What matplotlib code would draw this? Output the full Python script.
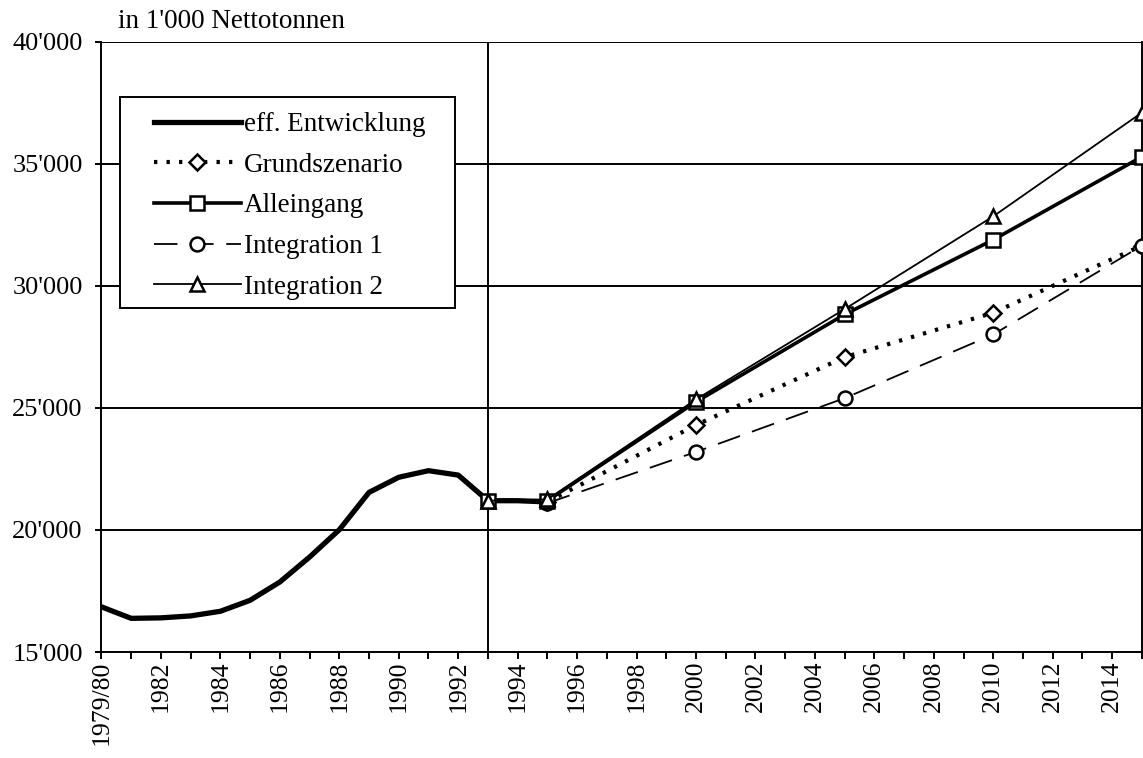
import matplotlib.pyplot as plt
from matplotlib.patches import Rectangle
from matplotlib.ticker import FuncFormatter

plt.rcParams['font.family'] = ['Liberation Serif', 'DejaVu Serif']

# effektive Entwicklung 1980-1995
eff_years = [1980, 1981, 1982, 1983, 1984, 1985, 1986, 1987, 1988, 1989,
             1990, 1991, 1992, 1993, 1994, 1995]
eff_values = [16850, 16380, 16400, 16480, 16670, 17120, 17870, 18890, 20010,
              21540, 22160, 22430, 22250, 21200, 21200, 21150]

# Szenarien
grund_years = [1995, 2000, 2005, 2010, 2015]
grund_values = [21150, 24300, 27080, 28900, 31650]

allein_years = [1993, 1995, 2000, 2005, 2010, 2015]
allein_values = [21200, 21200, 25250, 28830, 31890, 35290]

int1_years = [1995, 2000, 2005, 2010, 2015]
int1_values = [21100, 23200, 25400, 28010, 31650]

int2_years = [1993, 1995, 2000, 2005, 2010, 2015]
int2_values = [21200, 21250, 25350, 29050, 32850, 37100]

x_ticks = list(range(1980, 2016))
x_labels = ['1979/80' if y == 1980 else (str(y) if y % 2 == 0 else '') for y in x_ticks]
y_ticks = [15000, 20000, 25000, 30000, 35000, 40000]

W, H = 1143, 758
fig = plt.figure(figsize=(W / 100, H / 100), dpi=100)
ax = fig.add_axes([0.0888, 0.1398, 0.9102, 0.805])

# Gitterlinien
for yv in y_ticks:
    ax.axhline(yv, color='black', lw=1.4, zorder=1)
ax.axvline(1993, color='black', lw=1.4, zorder=1)

ax.plot(eff_years, eff_values, color='black', lw=3.8, solid_joinstyle='round',
        label='eff. Entwicklung', zorder=3)
ax.plot(grund_years, grund_values, color='black', lw=3, linestyle=(0, (0.8, 2.2)),
        dash_capstyle='butt', marker='D', markersize=8, markerfacecolor='white',
        markeredgewidth=1.8, label='Grundszenario', zorder=4)
ax.plot(allein_years, allein_values, color='black', lw=2.6, marker='s',
        markersize=10, markerfacecolor='white', markeredgewidth=1.8,
        label='Alleingang', zorder=5)
ax.plot(int1_years, int1_values, color='black', lw=1.3, linestyle=(0, (13, 7)),
        marker='o', markersize=10, markerfacecolor='white', markeredgewidth=1.8,
        label='Integration 1', zorder=4)
ax.plot(int2_years, int2_values, color='black', lw=1.3, marker='^',
        markersize=10, markerfacecolor='white', markeredgewidth=1.8,
        label='Integration 2', zorder=6)

ax.set_xlim(1980, 2015)
ax.set_ylim(15000, 40000)
ax.set_xticks(x_ticks)
ax.set_xticklabels(x_labels, rotation=90, fontsize=18.5)
ax.set_yticks(y_ticks)
ax.yaxis.set_major_formatter(FuncFormatter(lambda v, p: f"{int(v):,}".replace(',', "'")))
ax.tick_params(axis='y', labelsize=19, direction='out', length=4.5, width=1.4, pad=9)
ax.tick_params(axis='x', direction='out', length=5, width=1.4, pad=1)
for s in ax.spines.values():
    s.set_linewidth(1.4)
ax.spines['top'].set_visible(False)

# Legendenrahmen
fig.patches.append(Rectangle((120 / W, 1 - 308 / H), (455 - 120) / W, (308 - 97) / H,
                             transform=fig.transFigure, facecolor='white',
                             edgecolor='black', lw=1.4, zorder=10))
leg = fig.legend(*ax.get_legend_handles_labels(), loc='upper left',
                 bbox_to_anchor=(154 / W, 1 - 112 / H), fontsize=19.5,
                 frameon=False, handlelength=3.2, handletextpad=0.12,
                 labelspacing=0.58, borderpad=0, borderaxespad=0)
leg.set_zorder(11)

fig.text(118 / W, 1 - 22 / H, "in 1'000 Nettotonnen", fontsize=19.5,
         ha='left', va='center')

fig.savefig('out.png', dpi=100)
